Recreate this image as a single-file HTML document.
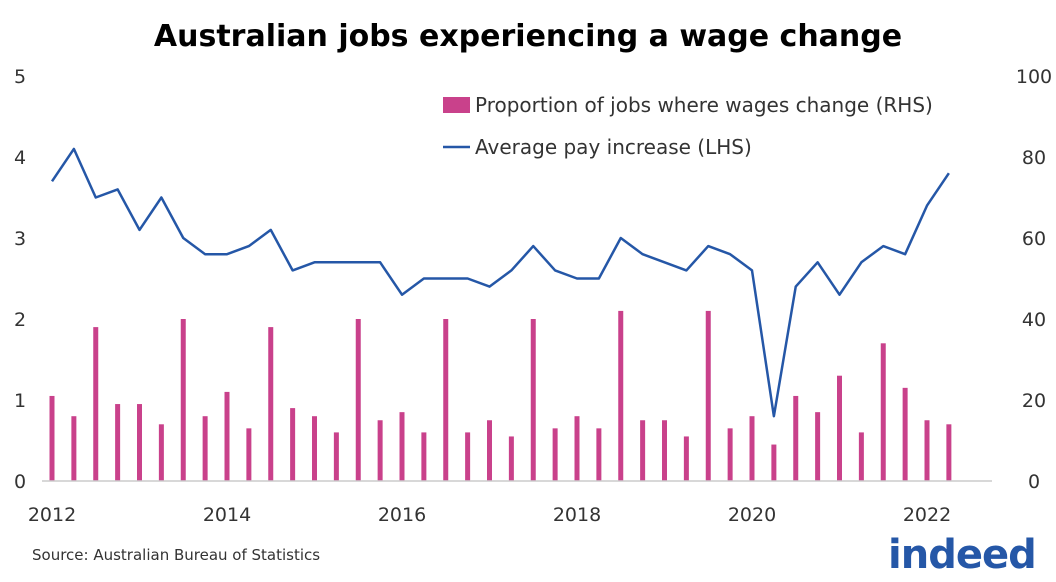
<!DOCTYPE html>
<html><head><meta charset="utf-8">
<style>
body{margin:0;background:#fff;font-family:"Liberation Sans","DejaVu Sans",sans-serif;}
svg text{font-family:"DejaVu Sans","Liberation Sans",sans-serif;}
</style></head>
<body>
<svg id="chart" width="1056" height="577" viewBox="0 0 1056 577">
<text x="528" y="46" text-anchor="middle" font-size="30" font-weight="bold" fill="#000">Australian jobs experiencing a wage change</text>
<g id="bars"></g>
<g id="axes"></g>
<path id="line" fill="none" stroke="#2557a7" stroke-width="2.5" stroke-linejoin="round"/>
<g>
<rect x="443" y="97" width="27" height="16" fill="#c9418b"/>
<text x="475" y="112" font-size="20" fill="#333">Proportion of jobs where wages change (RHS)</text>
<line x1="443" y1="147" x2="470" y2="147" stroke="#2557a7" stroke-width="2.5"/>
<text x="475" y="154" font-size="20" fill="#333">Average pay increase (LHS)</text>
</g>
<text x="32" y="560" font-size="15" fill="#333">Source: Australian Bureau of Statistics</text>
<text x="888" y="568" font-size="40" font-weight="bold" fill="#2557a7" letter-spacing="-1">indeed</text>
</svg>
<script>
const lhsValues=[3.7,4.1,3.5,3.6,3.1,3.5,3.0,2.8,2.8,2.9,3.1,2.6,2.7,2.7,2.7,2.7,2.3,2.5,2.5,2.5,2.4,2.6,2.9,2.6,2.5,2.5,3.0,2.8,2.7,2.6,2.9,2.8,2.6,0.8,2.4,2.7,2.3,2.7,2.9,2.8,3.4,3.8];
const rhsValues=[21,16,38,19,19,14,40,16,22,13,38,18,16,12,40,15,17,12,40,12,15,11,40,13,16,13,42,15,15,11,42,13,16,9,21,17,26,12,34,23,15,14];
const leftTicks=[0,1,2,3,4,5];
const rightTicks=[0,20,40,60,80,100];
const yearTicks=[2012,2014,2016,2018,2020,2022];
const startYear=2012;
const NS="http://www.w3.org/2000/svg";
const x0=52, pxPerYear=87.5, yBase=481, pxPerUnit=81;
function xq(i){return x0+i*pxPerYear/4;}
function xYear(y){return x0+(y-startYear)*pxPerYear;}
function yL(v){return yBase-v*pxPerUnit;}
function yR(v){return yBase-v/20*pxPerUnit;}
function mk(tag,attrs,parent){const e=document.createElementNS(NS,tag);for(const k in attrs)e.setAttribute(k,attrs[k]);parent.appendChild(e);return e;}
const bars=document.getElementById('bars');
rhsValues.forEach((v,i)=>{
 const r=mk('rect',{x:xq(i)-2.5,y:yR(v),width:5,height:yBase-yR(v),fill:'#c9418b'},bars);
 
 
});
document.getElementById('line').setAttribute('d',lhsValues.map((v,i)=>(i?'L':'M')+xq(i)+','+yL(v)).join(' '));
const ax=document.getElementById('axes');
const base=mk('line',{x1:42,y1:yBase,x2:992,y2:yBase,stroke:'#ccc','stroke-width':1.5},ax);


leftTicks.forEach(t=>{
 const e=mk('text',{x:20,y:yL(t)+7,'font-size':19,'text-anchor':'middle',fill:'#333'},ax);
 e.textContent=t;
 
 
});
rightTicks.forEach(t=>{
 const e=mk('text',{x:1034,y:yL(t/20)+7,'font-size':19,'text-anchor':'middle',fill:'#333'},ax);
 e.textContent=t;
 
 
});
yearTicks.forEach(t=>{
 const e=mk('text',{x:xYear(t),y:521,'font-size':19,'text-anchor':'middle',fill:'#333'},ax);
 e.textContent=t;
 
 
});
</script>
</body></html>
